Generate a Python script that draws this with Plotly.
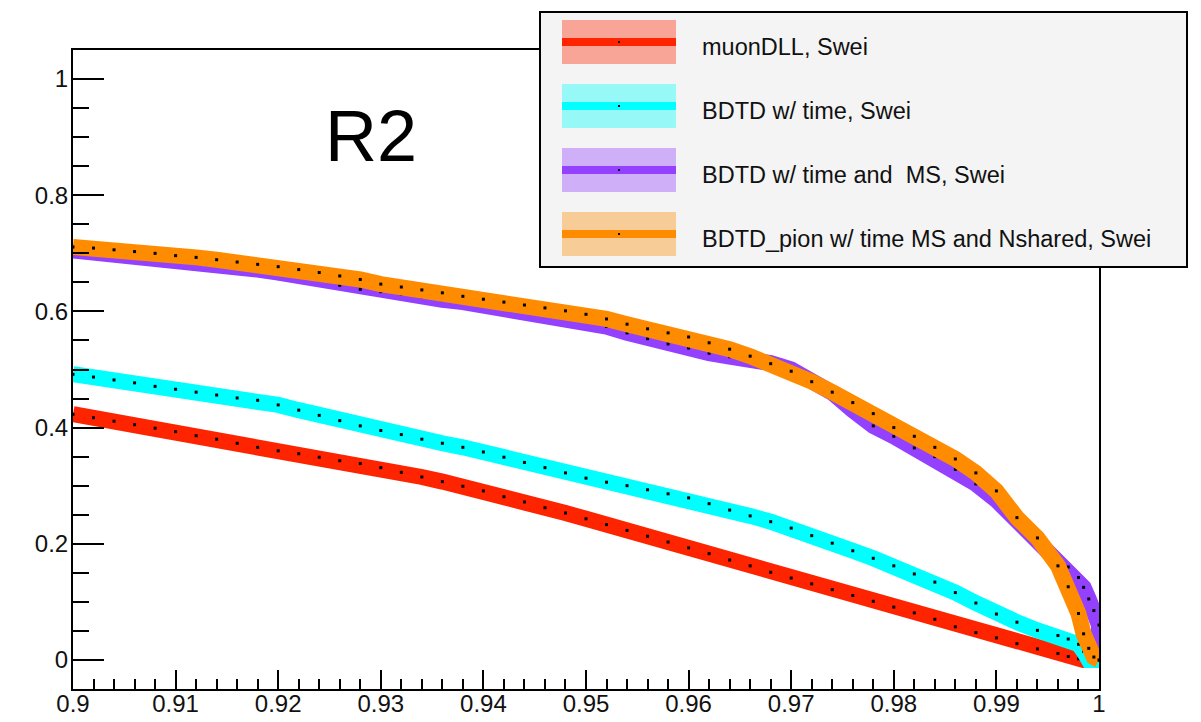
import plotly.graph_objects as go

# ---------------- data ----------------
x_base = [0.900, 0.902, 0.904, 0.906, 0.908, 0.910, 0.912, 0.914, 0.916, 0.918,
          0.920, 0.922, 0.924, 0.926, 0.928, 0.930, 0.932, 0.934, 0.936, 0.938,
          0.940, 0.942, 0.944, 0.946, 0.948, 0.950, 0.952, 0.954, 0.956, 0.958,
          0.960, 0.962, 0.964, 0.966, 0.968, 0.970, 0.972, 0.974, 0.976, 0.978,
          0.980, 0.982, 0.984, 0.986, 0.988, 0.990, 0.992, 0.994, 0.996]

muon_x = x_base + [0.997, 0.998, 0.9985, 1.0]
muon_y = [0.423, 0.417, 0.411, 0.405, 0.399, 0.393, 0.386, 0.380, 0.373, 0.366,
          0.360, 0.355, 0.349, 0.343, 0.338, 0.331, 0.323, 0.315, 0.307, 0.299,
          0.291, 0.281, 0.272, 0.262, 0.253, 0.243, 0.233, 0.223, 0.213, 0.203,
          0.193, 0.183, 0.172, 0.162, 0.151, 0.141, 0.131, 0.121, 0.111, 0.101,
          0.091, 0.081, 0.070, 0.057, 0.047, 0.038, 0.028, 0.019, 0.011,
          0.006, 0.002, 0.0, 0.0]

time_x = x_base + [0.997, 0.998, 0.9985, 0.999, 1.0]
time_y = [0.492, 0.487, 0.482, 0.477, 0.471, 0.466, 0.461, 0.456, 0.451, 0.447,
          0.439, 0.430, 0.421, 0.412, 0.403, 0.395, 0.388, 0.380, 0.373, 0.366,
          0.358, 0.349, 0.340, 0.331, 0.322, 0.313, 0.306, 0.300, 0.293, 0.286,
          0.279, 0.269, 0.258, 0.248, 0.238, 0.227, 0.214, 0.201, 0.188, 0.175,
          0.162, 0.148, 0.134, 0.116, 0.098, 0.079, 0.065, 0.051, 0.042,
          0.036, 0.027, 0.015, 0.0, 0.0]

ms_x = x_base + [0.997, 0.998, 0.9985, 0.999, 0.9995, 1.0, 1.0]
ms_y = [0.705, 0.702, 0.699, 0.696, 0.693, 0.689, 0.685, 0.681, 0.676, 0.672,
        0.667, 0.661, 0.654, 0.645, 0.638, 0.634, 0.630, 0.625, 0.620, 0.616,
        0.611, 0.606, 0.600, 0.595, 0.590, 0.584, 0.574, 0.563, 0.553, 0.544,
        0.537, 0.528, 0.522, 0.517, 0.511, 0.500, 0.483, 0.460, 0.430, 0.403,
        0.385, 0.365, 0.350, 0.328, 0.303, 0.275, 0.240, 0.210, 0.178,
        0.160, 0.142, 0.125, 0.105, 0.085, 0.060, 0.0]

pion_x = x_base + [0.997, 0.998, 0.9985, 0.999, 0.9995, 1.0]
pion_y = [0.711, 0.709, 0.706, 0.703, 0.700, 0.696, 0.693, 0.689, 0.685, 0.681,
          0.677, 0.672, 0.667, 0.661, 0.655, 0.647, 0.642, 0.637, 0.632, 0.626,
          0.621, 0.616, 0.611, 0.606, 0.601, 0.595, 0.587, 0.578, 0.570, 0.563,
          0.556, 0.546, 0.535, 0.523, 0.510, 0.497, 0.479, 0.461, 0.443, 0.424,
          0.400, 0.385, 0.366, 0.346, 0.322, 0.291, 0.245, 0.210, 0.162,
          0.126, 0.080, 0.045, 0.020, 0.005, 0.0]

series_names = ["muonDLL, Swei",
                "BDTD w/ time, Swei",
                "BDTD w/ time and  MS, Swei",
                "BDTD_pion w/ time MS and Nshared, Swei"]
series_colors = ["rgb(255,36,0)", "rgb(0,255,255)", "rgb(147,64,255)", "rgb(255,140,0)"]
series_tints = ["rgba(255,36,0,0.38)", "rgba(0,255,255,0.38)",
                "rgba(147,64,255,0.38)", "rgba(255,140,0,0.38)"]

x_tickvals = [0.90, 0.91, 0.92, 0.93, 0.94, 0.95, 0.96, 0.97, 0.98, 0.99, 1.00]
x_ticktext = ["0.9", "0.91", "0.92", "0.93", "0.94", "0.95", "0.96", "0.97", "0.98", "0.99", "1"]
y_tickvals = [0, 0.2, 0.4, 0.6, 0.8, 1.0]
y_ticktext = ["0", "0.2", "0.4", "0.6", "0.8", "1"]

title_text = "R2"

# ---------------- layout geometry (pixels) ----------------
W, H = 1201, 722
PL, PR, PT, PB = 73, 1099, 50, 689


def px(xp):
    return (xp - PL) / (PR - PL)


def py(yp):
    return (PB - yp) / (PB - PT)


FONT = "Liberation Sans, Arial, Helvetica, sans-serif"

fig = go.Figure()
xs = [muon_x, time_x, ms_x, pion_x]
ys = [muon_y, time_y, ms_y, pion_y]
for xv, yv, name, col in zip(xs, ys, series_names, series_colors):
    fig.add_trace(go.Scatter(
        x=xv, y=yv, name=name, mode="lines+markers",
        line=dict(color=col, width=16),
        marker=dict(color="black", size=3, symbol="square"),
        showlegend=False, hoverinfo="skip"))

shapes = []
annotations = []
# legend box
shapes.append(dict(type="rect", xref="paper", yref="paper",
                   x0=px(540), x1=px(1187), y0=py(267), y1=py(12),
                   fillcolor="#f4f4f4", line=dict(color="black", width=2),
                   layer="above"))
for i, (name, col, tint) in enumerate(zip(series_names, series_colors, series_tints)):
    cy = 42 + 64 * i
    shapes.append(dict(type="rect", xref="paper", yref="paper",
                       x0=px(562), x1=px(676), y0=py(cy + 22), y1=py(cy - 22),
                       fillcolor=tint, line=dict(width=0), layer="above"))
    shapes.append(dict(type="line", xref="paper", yref="paper",
                       x0=px(562), x1=px(676), y0=py(cy), y1=py(cy),
                       line=dict(color=col, width=8), layer="above"))
    shapes.append(dict(type="rect", xref="paper", yref="paper",
                       x0=px(618), x1=px(620), y0=py(cy + 1), y1=py(cy - 1),
                       fillcolor="black", line=dict(width=0), layer="above"))
    annotations.append(dict(text=name, xref="paper", yref="paper",
                            x=px(700), y=py(cy + 5), xanchor="left", yanchor="middle",
                            showarrow=False, font=dict(family=FONT, size=23.5, color="#111")))

annotations.append(dict(text=title_text, xref="paper", yref="paper",
                        x=px(371), y=py(136), xanchor="center", yanchor="middle",
                        showarrow=False, font=dict(family=FONT, size=72, color="black")))

fig.update_layout(
    width=W, height=H,
    margin=dict(l=PL, r=W - PR, t=PT, b=H - PB, pad=0),
    paper_bgcolor="white", plot_bgcolor="white",
    font=dict(family=FONT, size=24, color="#111"),
    shapes=shapes, annotations=annotations,
    xaxis=dict(range=[0.9, 1.0], tickmode="array", tickvals=x_tickvals, ticktext=x_ticktext,
               ticks="inside", ticklen=19, tickwidth=1.5, tickcolor="black",
               minor=dict(tick0=0.9, dtick=0.002, ticks="inside", ticklen=10,
                          tickwidth=1.5, tickcolor="black"),
               showgrid=False, zeroline=False, showline=True, linecolor="black",
               linewidth=2, mirror=True, ticklabelstandoff=-8, automargin=False,
               tickfont=dict(family=FONT, size=24, color="#111")),
    yaxis=dict(range=[-0.05, 1.05], tickmode="array", tickvals=y_tickvals, ticktext=y_ticktext,
               ticks="inside", ticklen=31, tickwidth=1.5, tickcolor="black",
               minor=dict(tick0=0, dtick=0.05, ticks="inside", ticklen=16,
                          tickwidth=1.5, tickcolor="black"),
               showgrid=False, zeroline=False, showline=True, linecolor="black",
               linewidth=2, mirror=True, ticklabelstandoff=-2, automargin=False,
               tickfont=dict(family=FONT, size=24, color="#111")),
)

fig.write_html("out.html")
